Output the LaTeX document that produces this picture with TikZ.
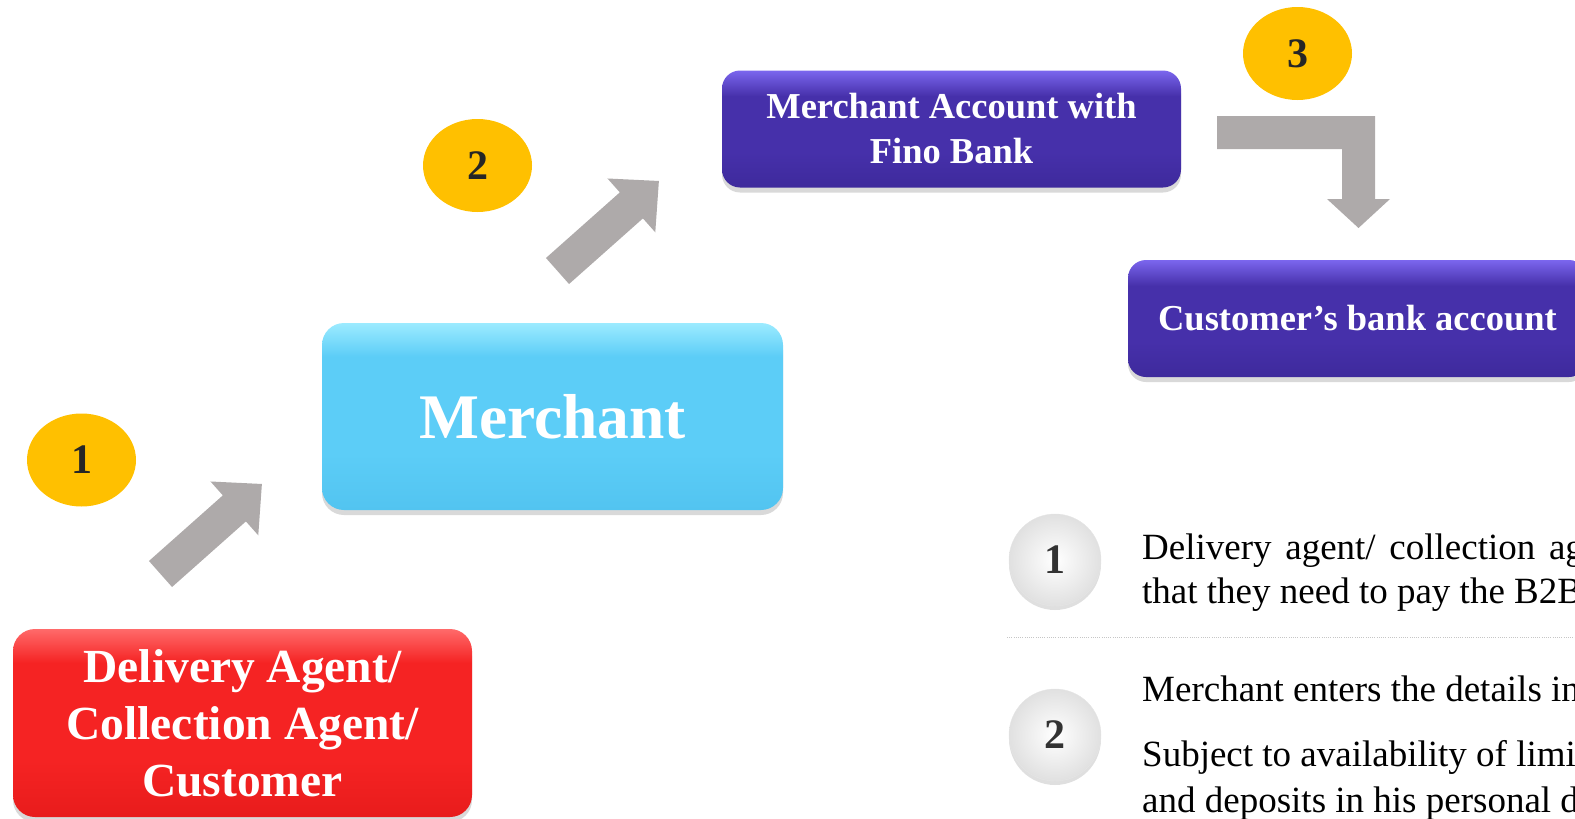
\documentclass[tikz,border=0pt]{standalone}
\usepackage{fontspec}
\setmainfont{Liberation Serif}
\usetikzlibrary{shapes.geometric,shadows}
\definecolor{arrowgray}{HTML}{AEAAAA}
\definecolor{gold}{HTML}{FFC000}
\definecolor{redmain}{HTML}{F52323}
\definecolor{reddark}{HTML}{E81C1C}
\definecolor{redtop}{HTML}{FF6A6A}
\definecolor{cyanmain}{HTML}{5CCDF7}
\definecolor{cyandark}{HTML}{52C4F0}
\definecolor{cyantop}{HTML}{9CEBFF}
\definecolor{purplemain}{HTML}{4630AA}
\definecolor{purpledark}{HTML}{3E2A9C}
\definecolor{purpletop}{HTML}{7B66EE}
\pgfdeclareverticalshading{redshade}{100bp}{color(0bp)=(reddark); color(25bp)=(reddark); color(40bp)=(redmain); color(66bp)=(redmain); color(75bp)=(redtop); color(100bp)=(redtop)}
\pgfdeclareverticalshading{cyanshade}{100bp}{color(0bp)=(cyandark); color(25bp)=(cyandark); color(40bp)=(cyanmain); color(66bp)=(cyanmain); color(75bp)=(cyantop); color(100bp)=(cyantop)}
\pgfdeclareverticalshading{purpleshade}{100bp}{color(0bp)=(purpledark); color(25bp)=(purpledark); color(40bp)=(purplemain); color(64bp)=(purplemain); color(75bp)=(purpletop); color(100bp)=(purpletop)}
\begin{document}
\begin{tikzpicture}[x=1pt,y=-1pt,
  boxbase/.style={rectangle, rounded corners=22pt, inner sep=0pt, align=center, text=white,
    drop shadow={opacity=0.3, shadow xshift=0pt, shadow yshift=-5pt}},
  redbox/.style={boxbase, shading=redshade, minimum width=459pt, minimum height=188pt,
    font=\fontsize{47.5}{57}\selectfont\bfseries},
  cyanbox/.style={boxbase, shading=cyanshade, minimum width=461pt, minimum height=187pt,
    font=\fontsize{63.5}{70}\selectfont\bfseries},
  purplebox/.style={boxbase, rounded corners=18pt, shading=purpleshade, minimum width=459pt, minimum height=117pt,
    font=\fontsize{36.5}{45}\selectfont\bfseries},
  badge/.style={ellipse, fill=gold, minimum width=109pt, minimum height=93pt, inner sep=0pt,
    font=\fontsize{42}{42}\selectfont\bfseries, text=black!85},
  bullet/.style={circle, minimum size=92pt, inner sep=0pt, shading=radial, inner color=white,
    outer color=gray!24, draw=gray!20, font=\fontsize{42}{42}\selectfont\bfseries, text=black!80,
    drop shadow={opacity=0.25, shadow xshift=0pt, shadow yshift=-4pt}},
  blockarrow/.style={fill=arrowgray},
  bodytext/.style={anchor=base west, inner sep=0pt, font=\fontsize{37}{43}\selectfont}
]
\useasboundingbox (0,0) rectangle (1575,819);
\clip (0,0) rectangle (1575,819);

% boxes
\node[redbox] (agent) at (242.5,723) {Delivery Agent/\\Collection Agent/\\Customer};
\node[cyanbox] (merchant) at (552.5,416.5) {Merchant};
\node[purplebox] (fino) at (951.5,129) {Merchant Account with\\Fino Bank};
\node[purplebox] (custbank) at (1357.5,318.5) {Customer’s bank account};

% step badges
\node[badge] (b1) at (81.5,460) {1};
\node[badge] (b2) at (477.5,165.5) {2};
\node[badge] (b3) at (1297.5,53.5) {3};

% block arrows
\begin{scope}[shift={(160.5,574)}, rotate=41.6]
\fill[blockarrow] (0,17.4) -- (98.8,17.4) -- (98.8,36) -- (135.6,0) -- (98.8,-36) -- (98.8,-17.4) -- (0,-17.4) -- cycle;
\end{scope}
\begin{scope}[shift={(557.5,271)}, rotate=41.6]
\fill[blockarrow] (0,17.4) -- (98.8,17.4) -- (98.8,36) -- (135.6,0) -- (98.8,-36) -- (98.8,-17.4) -- (0,-17.4) -- cycle;
\end{scope}
\fill[blockarrow] (1217,116) -- (1375,116) -- (1375,199) -- (1390,199) -- (1358.5,228) -- (1327,199) -- (1342,199) -- (1342,149) -- (1217,149) -- cycle;

% legend
\node[bullet] (n1) at (1055,560) {1};
\node[bullet] (n2) at (1055,735) {2};
\coordinate (sepL) at (1007,637);
\coordinate (sepR) at (1575,637);
\draw[gray!45, line width=0.8pt, dash pattern=on 1pt off 1.2pt] (sepL) -- (sepR);

\node[bodytext] (t1a) at (1142,559) {Delivery\hspace{0.12em} agent/\hspace{0.12em} collection\hspace{0.12em} agent};
\node[bodytext] (t1b) at (1142,603) {that they need to pay the B2B};
\node[bodytext] (t2a) at (1142,701) {Merchant enters the details in};
\node[bodytext] (t2b) at (1142,766) {Subject to availability of limit};
\node[bodytext] (t2c) at (1142,812) {and deposits in his personal deposit};
\end{tikzpicture}
\end{document}
